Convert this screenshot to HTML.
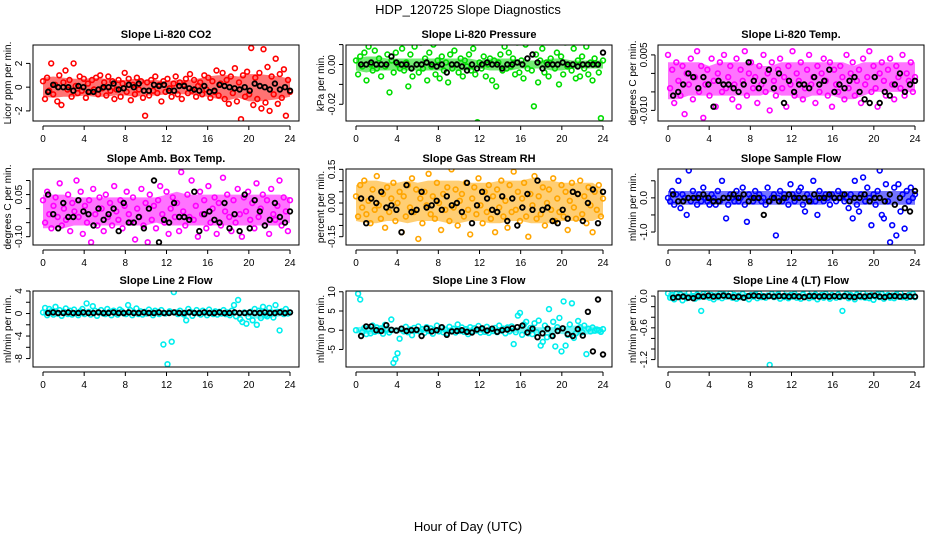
<!DOCTYPE html>
<html><head><meta charset="utf-8"><title>HDP_120725 Slope Diagnostics</title>
<style>
html,body{margin:0;padding:0;background:#fff;}
svg{display:block;font-family:"Liberation Sans",Arial,sans-serif;}
</style></head>
<body>
<svg id="chart" width="936" height="540" viewBox="0 0 936 540" xmlns="http://www.w3.org/2000/svg">
<defs>
<clipPath id="c0"><rect x="33" y="45" width="266" height="76"/></clipPath>
</defs>
<text x="468" y="14" font-size="13" text-anchor="middle">HDP_120725  Slope Diagnostics</text>
<text x="468" y="531" font-size="13" text-anchor="middle">Hour of Day (UTC)</text>
</svg>
<script>
const xTicks = [0,4,8,12,16,20,24];
const titles = ["Slope Li-820 CO2","Slope Li-820 Pressure","Slope Li-820 Temp.","Slope Amb. Box Temp.","Slope Gas Stream RH","Slope Sample Flow","Slope Line 2 Flow","Slope Line 3 Flow","Slope Line 4 (LT) Flow"];
const yTitles = ["Licor ppm per min.","kPa per min.","degrees C per min.","degrees C per min.","percent per min.","ml/min per min.","ml/min per min.","ml/min per min.","ml/min per min."];
const yTickVals = [[-2,0,2],[-0.02,-0.01,0,0.01],[-0.010,-0.005,0,0.005],[-0.10,-0.05,0,0.05,0.10],[-0.15,-0.10,-0.05,0,0.05,0.10,0.15],[-1.0,-0.5,0,0.5],[-8,-6,-4,-2,0,2,4],[-5,0,5,10],[-1.2,-1.0,-0.8,-0.6,-0.4,-0.2,0]];
const yTickLabels = [["-2","0","2"],["-0.02","","0.00",""],["-0.010","","","0.005"],["-0.10","","","0.05",""],["-0.15","","","0.00","","","0.15"],["-1.0","","0.0",""],["-8","","-4","","0","","4"],["-5","0","5","10"],["-1.2","","","-0.6","","","0.0"]];
const yMin = [-2.85,-0.0284,-0.01287,-0.1296,-0.187,-1.38,-9.5,-9.56,-1.34];
const yMax = [3.55,0.0098,0.00768,0.141,0.1515,0.845,4.0,10.2,0.096];
const unitScale = [0.1,0.001,0.001,0.01,0.01,0.1,0.1,0.1,0.01];
const colors = ["#ff0000","#00dd00","#ff00ff","#ff00ff","#ffa500","#0000ff","#00eeee","#00eeee","#00eeee"];

// ---- dense band envelopes, hourly (unitScale units) ----
const p1Lo=[-8,-9,-8,-8,-7,-8,-8,-7,-7,-8,-7,-7,-6,-6,-6,-7,-8,-10,-11,-9,-12,-12,-11,-10,-8];
const p1Hi=[8,9,8,7,7,8,7,6,6,7,6,6,5,6,6,7,9,10,10,9,11,11,10,9,7];
const p2Lo=[-3,-4,-3,-3,-3,-3,-3,-3,-3,-3,-3,-3,-2,-3,-3,-3,-2,-2,-2,-3,-3,-2,-2,-2,-2];
const p2Hi=[3,4,4,3,3,3,3,3,3,3,3,3,2,3,3,3,2,2,2,3,3,2,2,2,2];
const p3Lo=[-7,-7,-6,-6,-6,-6,-6,-6,-6,-6,-5,-6,-6,-7,-6,-6,-6,-7,-7,-6,-5,-5,-5,-5,-5];
const p3Hi=[3,3,3,3,2,3,3,3,3,2,2,3,3,3,3,3,3,3,2,3,3,3,3,3,3];
const p4Lo=[-7,-7,-7,-6,-6,-6,-6,-6,-6,-6,-6,-5,-6,-6,-6,-6,-6,-6,-6,-6,-6,-6,-6,-6,-5];
const p4Hi=[5,5,5,4,4,4,4,4,4,4,4,4,5,6,5,5,5,5,5,5,5,5,5,5,4];
const p5Lo=[-8,-9,-9,-8,-8,-9,-8,-8,-8,-9,-9,-8,-8,-9,-9,-8,-8,-9,-9,-9,-8,-8,-8,-8,-6];
const p5Hi=[8,10,10,9,9,10,9,10,10,10,10,9,9,9,10,10,10,11,10,10,9,9,9,9,6];
const p6Lo=[-2,-2,-2,-2,-2,-2,-2,-2,-2,-2,-2,-2,-2,-2,-2,-2,-1,-1,-2,-2,-2,-2,-2,-2,-2];
const p6Hi=[2,2,2,2,2,2,2,2,2,2,2,2,2,2,2,2,2,2,2,2,2,2,2,2,2];
const p7Lo=[-3,-4,-4,-3,-3,-3,-3,-3,-3,-3,-3,-3,-3,-3,-3,-3,-4,-3,-3,-3,-6,-10,-8,-5,-3];
const p7Hi=[6,7,6,6,6,5,5,5,5,5,5,5,5,5,5,5,5,5,5,5,6,7,7,8,6];
const p8Lo=[-8,-10,-10,-8,-8,-7,-7,-7,-7,-7,-7,-7,-7,-7,-7,-7,-7,-8,-8,-8,-10,-12,-12,-10,-8];
const p8Hi=[8,10,10,8,7,7,7,7,7,7,7,7,7,7,7,7,7,8,8,8,10,12,12,10,8];
const p9Lo=[-6,-6,-6,-5,-5,-5,-5,-5,-5,-5,-5,-5,-5,-5,-5,-5,-5,-5,-5,-5,-5,-5,-6,-5,-5];
const p9Hi=[6,5,5,5,5,5,5,5,5,5,5,5,5,5,5,5,5,5,5,5,5,5,5,5,5];

const p1Color = [5,-10,8,-3,20,-6,2,-12,10,-15,4,14,-2,6,-8,20,1,-5,9,-3,7,-9,3,-4,6,-2,8,-6,10,-1,4,-7,9,-3,5,-10,-2,6,-8,3,12,-4,7,-11,2,-6,8,-2,5,-9,-24,4,-7,6,-3,9,-5,2,-12,5,-4,7,-1,-8,3,9,-6,4,-10,2,7,-5,11,-3,6,-8,1,4,-6,10,-2,8,-9,5,-4,14,-7,3,12,-10,6,-14,9,-5,16,-12,4,-27,10,-8,13,-6,33,-15,8,-10,12,-18,32,-13,17,-20,9,-6,24,-14,11,-9,15,-24,6,-4];
const p1Black = [-4,2,0,0,0,-3,1,0,-4,-4,-2,0,0,3,-2,-1,2,0,3,-3,-3,2,1,2,-3,-3,1,1,-1,-2,-3,1,-4,-3,2,1,0,-1,-2,0,-3,3,1,0,-2,3,-2,0,-3];
const p2Color = [2,-5,4,-1,6,-8,9,0,-3,7,-2,3,-6,12,-1,5,-14,2,-4,6,0,-2,8,-3,1,-11,5,-6,9,0,-4,11,-2,3,-8,6,-1,10,-5,2,-7,4,-3,1,-9,5,-2,7,0,-4,3,-6,2,-1,5,-3,8,-5,-29,1,-2,4,-6,0,3,-8,2,-11,1,5,-3,9,-2,6,-1,3,-5,11,-4,2,-7,10,-2,12,-3,-21,5,-9,2,8,-4,1,-6,3,0,-2,6,-10,4,-5,11,-1,12,-3,8,-7,2,-6,4,-2,9,-5,1,-8,3,0,-4,-27,2];
const p2Black = [0,0,1,0,0,0,4,1,0,0,-2,0,0,1,0,-1,0,-4,0,0,-1,-3,0,-2,0,1,0,0,-2,0,0,1,0,3,5,1,-2,0,0,0,1,0,0,-1,0,0,0,0,6];
const p3Color = [5,-4,1,-8,3,-2,-6,2,-11,0,-3,4,-7,-1,6,-5,2,-12,-3,1,-6,4,-2,-9,0,3,-5,5,-4,-1,2,-7,-3,4,-9,1,-2,6,-6,0,3,-4,-1,-8,2,-3,5,-5,0,-10,3,-2,-6,1,4,-4,-1,-9,2,-3,6,-6,0,-2,3,-7,-4,1,5,-3,-1,-8,2,-5,0,4,-2,-6,3,-9,1,-3,-5,2,-1,-7,5,-4,0,3,-6,-2,1,-8,4,-3,-1,6,-5,2,-4,-9,0,3,-2,-6,1,4,-3,-7,2,-1,-4,5,-6,0,-2,3,-5,-1];
const p3Black = [-6,-5,-3,0,-1,-4,-1,-3,-9,-2,-3,-3,-4,-5,-3,3,-2,-4,-2,1,-4,0,-8,-2,-5,-3,-3,-4,-1,-3,-2,1,-5,-3,-4,-2,-1,-5,-7,-8,-1,-8,-5,-6,-3,0,-5,-3,-2];
const p4Color = [3,-5,6,-2,-7,1,4,-3,9,-6,0,-4,5,-8,2,-1,10,-3,6,-9,1,-5,3,-12,7,-2,-6,4,0,-8,5,-3,2,-6,8,-1,-4,3,-7,1,6,-2,-5,4,-11,0,-3,7,-6,2,-12,5,-4,1,-7,3,8,-2,-5,6,-9,0,4,-3,2,-8,13,-1,-6,5,-3,10,-4,1,-10,6,-2,3,-7,8,-5,0,4,-9,2,-6,11,-1,5,-3,-8,3,-5,7,-2,-10,4,-1,6,-4,2,-7,9,-3,0,5,-6,3,-9,7,-2,-4,1,10,-6,4,-1,-8,3];
const p4Black = [5,-2,-7,2,-3,-3,3,-1,-2,-6,0,-4,-2,0,-8,2,-5,-5,-3,-7,0,10,-12,-4,-5,2,-3,-3,-4,6,-8,-2,-1,-4,-5,2,-7,-2,-8,5,-7,3,-1,-6,-4,2,-3,-5,-1];
const p5Color = [3,-6,8,-2,10,-5,1,-9,6,-3,12,-1,-7,4,-11,7,-4,2,9,-8,0,5,-13,3,-6,8,-2,11,-4,6,-16,2,-9,5,-1,13,-5,3,-7,9,0,-12,4,-3,7,-8,15,-2,6,-10,1,4,-6,9,-3,-14,2,7,-5,11,-1,-9,5,-4,8,-7,3,-13,6,-2,10,-6,1,-11,8,-4,14,-3,5,-8,2,9,-6,-15,4,-1,12,-7,3,-5,7,-10,0,6,-3,11,-8,2,-4,8,-6,5,-12,1,9,-2,-7,4,10,-5,3,-9,7,-1,-13,5,-3,8,-6,2];
const p5Black = [2,-9,2,0,5,-2,-1,-3,-13,8,-4,-3,5,-2,-1,1,-3,3,-1,0,-4,9,-9,-1,5,2,-3,-4,3,-8,2,-10,-2,4,-3,10,-3,-2,-8,-9,-3,-7,5,4,-8,0,6,-9,5];
const p6Color = [0,-1,2,-2,1,5,-3,1,0,-5,8,-1,2,0,-2,1,-1,3,0,-1,-2,1,0,-2,2,-1,5,0,-6,-2,1,0,-1,2,-1,0,3,-2,-7,1,0,-1,2,0,1,-1,0,-2,3,-1,0,1,-11,0,2,-1,1,0,-2,4,1,-1,0,2,3,-2,-4,1,0,-1,5,-1,-5,2,0,-1,1,0,-2,1,0,-1,2,0,1,-1,0,-3,1,-6,5,-2,-4,1,6,-1,3,0,-8,1,-2,2,8,-5,-6,4,-1,-13,-8,3,-11,4,-4,1,-9,2,-1,3,0,1];
const p6Black = [1,-1,-1,0,0,0,1,0,-1,-1,0,0,1,0,1,-1,0,0,-5,-1,0,-1,0,1,0,0,0,-1,1,0,0,1,0,0,1,-1,0,0,1,-1,0,0,-1,1,-2,0,-3,-4,2];
const p7Color = [2,10,-3,8,4,-2,12,0,6,-4,3,9,-1,5,-2,7,1,-3,4,8,-1,18,3,-2,13,5,-4,2,6,0,-1,8,3,-3,5,1,-2,7,4,0,-1,15,6,-3,2,9,-1,4,-2,3,0,7,1,-3,5,2,-1,6,-55,0,-90,4,-50,38,2,-1,5,0,-2,-12,8,3,-4,1,6,0,-2,5,2,-3,7,1,-1,4,-2,3,0,6,-1,2,-3,5,15,-5,24,-10,-15,2,-18,-6,3,-12,8,-20,5,-8,12,-3,-5,10,2,-7,15,3,-30,4,-1,8,0,2];
const p7Black = [1,2,1,1,2,1,1,2,1,1,2,1,1,2,1,1,2,1,1,2,1,1,2,1,1,2,1,1,2,1,1,2,1,1,2,1,1,2,1,1,2,1,1,2,1,1,2,1,2];
const p8Color = [0,95,80,-5,6,-10,3,-8,12,-4,7,-2,5,-9,14,2,-6,28,-85,-75,-60,-22,4,-3,9,-5,2,-13,6,-1,10,-4,3,-7,8,-2,5,-9,1,12,-3,6,-5,2,-8,9,-1,4,-6,15,-2,7,-4,3,-10,8,-3,5,-1,11,-6,2,-4,9,-7,3,-2,6,-5,12,-1,4,-8,7,-3,10,-36,-5,38,45,-12,15,22,-8,6,-10,18,-5,25,-40,-30,12,-18,55,-15,22,-42,8,32,-55,75,-40,-12,15,70,-20,-8,24,8,-5,12,-62,4,-3,7,-1,2,0,-4,3];
const p8Black = [-15,10,10,0,-2,13,1,-1,4,-2,0,1,-15,5,-3,0,8,-12,-3,-2,0,-4,-6,2,5,-1,4,-4,0,2,5,8,12,-6,4,-18,-8,4,-15,-2,5,-10,-15,3,-14,48,-55,80,-63];
const p9Color = [5,-3,2,-6,4,-1,3,-8,1,-4,6,-2,0,-5,3,-2,-28,4,-1,5,-3,2,-6,1,-2,4,-4,3,-1,0,5,-3,2,-5,1,-2,4,-3,0,-6,2,-1,3,-4,5,-2,0,-3,1,-130,4,-2,-1,3,-5,6,-2,1,-4,2,-1,4,-3,0,-5,3,-2,7,-4,1,-2,3,-6,0,2,-3,4,-1,-5,2,0,-3,3,-2,-28,1,4,-4,2,-1,-6,3,0,-2,5,-3,1,-4,2,-7,-1,3,-2,4,-5,0,2,-3,1,-4,3,-1,5,-2,0,-3,2,-1,4,-2];
const p9Black = [-3,-2,-1,-3,-4,0,-1,1,-1,0,1,0,-2,-1,-3,0,1,0,-1,0,-1,0,0,-1,0,-1,-2,0,0,-1,0,-1,0,-1,0,-1,-2,0,-1,0,1,-1,-2,0,0,-1,0,-1,-1];

const bandLo = [p1Lo,p2Lo,p3Lo,p4Lo,p5Lo,p6Lo,p7Lo,p8Lo,p9Lo];
const bandHi = [p1Hi,p2Hi,p3Hi,p4Hi,p5Hi,p6Hi,p7Hi,p8Hi,p9Hi];
const colorSeries = [p1Color,p2Color,p3Color,p4Color,p5Color,p6Color,p7Color,p8Color,p9Color];
const blackSeries = [p1Black,p2Black,p3Black,p4Black,p5Black,p6Black,p7Black,p8Black,p9Black];

const NS = "http://www.w3.org/2000/svg";
const svg = document.getElementById('chart');
const defs = svg.querySelector('defs');
function mk(tag, attrs, parent){
  const e = document.createElementNS(NS, tag);
  for (const k in attrs) e.setAttribute(k, attrs[k]);
  (parent||svg).appendChild(e);
  return e;
}
const colLeft = [33,346,658], rowTop = [45,169,291], boxW = 266, boxH = 76;

for (let p=0;p<9;p++){
  const L = colLeft[p%3], T = rowTop[Math.floor(p/3)];
  const cp = mk('clipPath',{id:'clip'+p},defs);
  mk('rect',{x:L,y:T,width:boxW,height:boxH},cp);
  const g = mk('g',{});
  
  
  const xs = h => L + 10 + h/24*247;
  const ys = v => T + (yMax[p]-v)/(yMax[p]-yMin[p])*boxH;
  const t = mk('text',{x:L+boxW/2,y:T-7,'font-size':11,'font-weight':'bold','text-anchor':'middle'},g);
  t.textContent = titles[p];
  
  
  const yt = mk('text',{x:0,y:0,'font-size':10,'text-anchor':'middle',transform:`translate(${L-22},${T+boxH/2}) rotate(-90)`},g);
  yt.textContent = yTitles[p];
  
  
  const plot = mk('g',{'clip-path':'url(#clip'+p+')'},g);
  
  
  const lo = bandLo[p], hi = bandHi[p];
  let d = '';
  hi.forEach((v,i)=>{ d += (i?'L':'M') + xs(i).toFixed(1) + ',' + ys(v*unitScale[p]).toFixed(1); });
  for (let i=lo.length-1;i>=0;i--) d += 'L' + xs(i).toFixed(1) + ',' + ys(lo[i]*unitScale[p]).toFixed(1);
  d += 'Z';
  const band = mk('path',{d:d,fill:colors[p],'fill-opacity':0.55,stroke:'none'},plot);
  
  
  const cg = mk('g',{fill:'none',stroke:colors[p],'stroke-width':1.6},plot);
  
  
  const cs = colorSeries[p];
  cs.forEach((v,i)=>{
    const c = mk('circle',{cx:xs(i*24/(cs.length-1)).toFixed(1),cy:ys(v*unitScale[p]).toFixed(1),r:2.4},cg);
    
    
  });
  const bg = mk('g',{fill:'none',stroke:'#000','stroke-width':1.8},plot);
  
  
  const bs = blackSeries[p];
  bs.forEach((v,i)=>{
    const c = mk('circle',{cx:xs(0.5+i*23.5/(bs.length-1)).toFixed(1),cy:ys(v*unitScale[p]).toFixed(1),r:2.3},bg);
    
    
  });
  const b = mk('rect',{x:L,y:T,width:boxW,height:boxH,fill:'none',stroke:'#000','stroke-width':1},g);
  
  
  const ax = mk('g',{stroke:'#000','stroke-width':1},g);
  
  
  const ay0 = T+boxH+5;
  mk('line',{x1:xs(0),x2:xs(24),y1:ay0,y2:ay0},ax);
  xTicks.forEach(h=>{
    mk('line',{x1:xs(h),x2:xs(h),y1:ay0,y2:ay0+4},ax);
    const tl = mk('text',{x:xs(h),y:ay0+16,'font-size':10,'text-anchor':'middle',stroke:'none'},ax);
    tl.textContent = h;
    
    
  });
  const yg = mk('g',{stroke:'#000','stroke-width':1},g);
  
  
  const tv = yTickVals[p];
  const axX = L-3;
  mk('line',{x1:axX,x2:axX,y1:ys(tv[0]),y2:ys(tv[tv.length-1])},yg);
  tv.forEach((v,i)=>{
    const yy = ys(v);
    mk('line',{x1:axX-4,x2:axX,y1:yy,y2:yy},yg);
    if (yTickLabels[p][i]){
      const tl = mk('text',{x:0,y:0,'font-size':10,'text-anchor':'middle',stroke:'none',transform:`translate(${axX-8},${yy}) rotate(-90)`},yg);
      tl.textContent = yTickLabels[p][i];
      
      
    }
  });
}
</script>
</body></html>
